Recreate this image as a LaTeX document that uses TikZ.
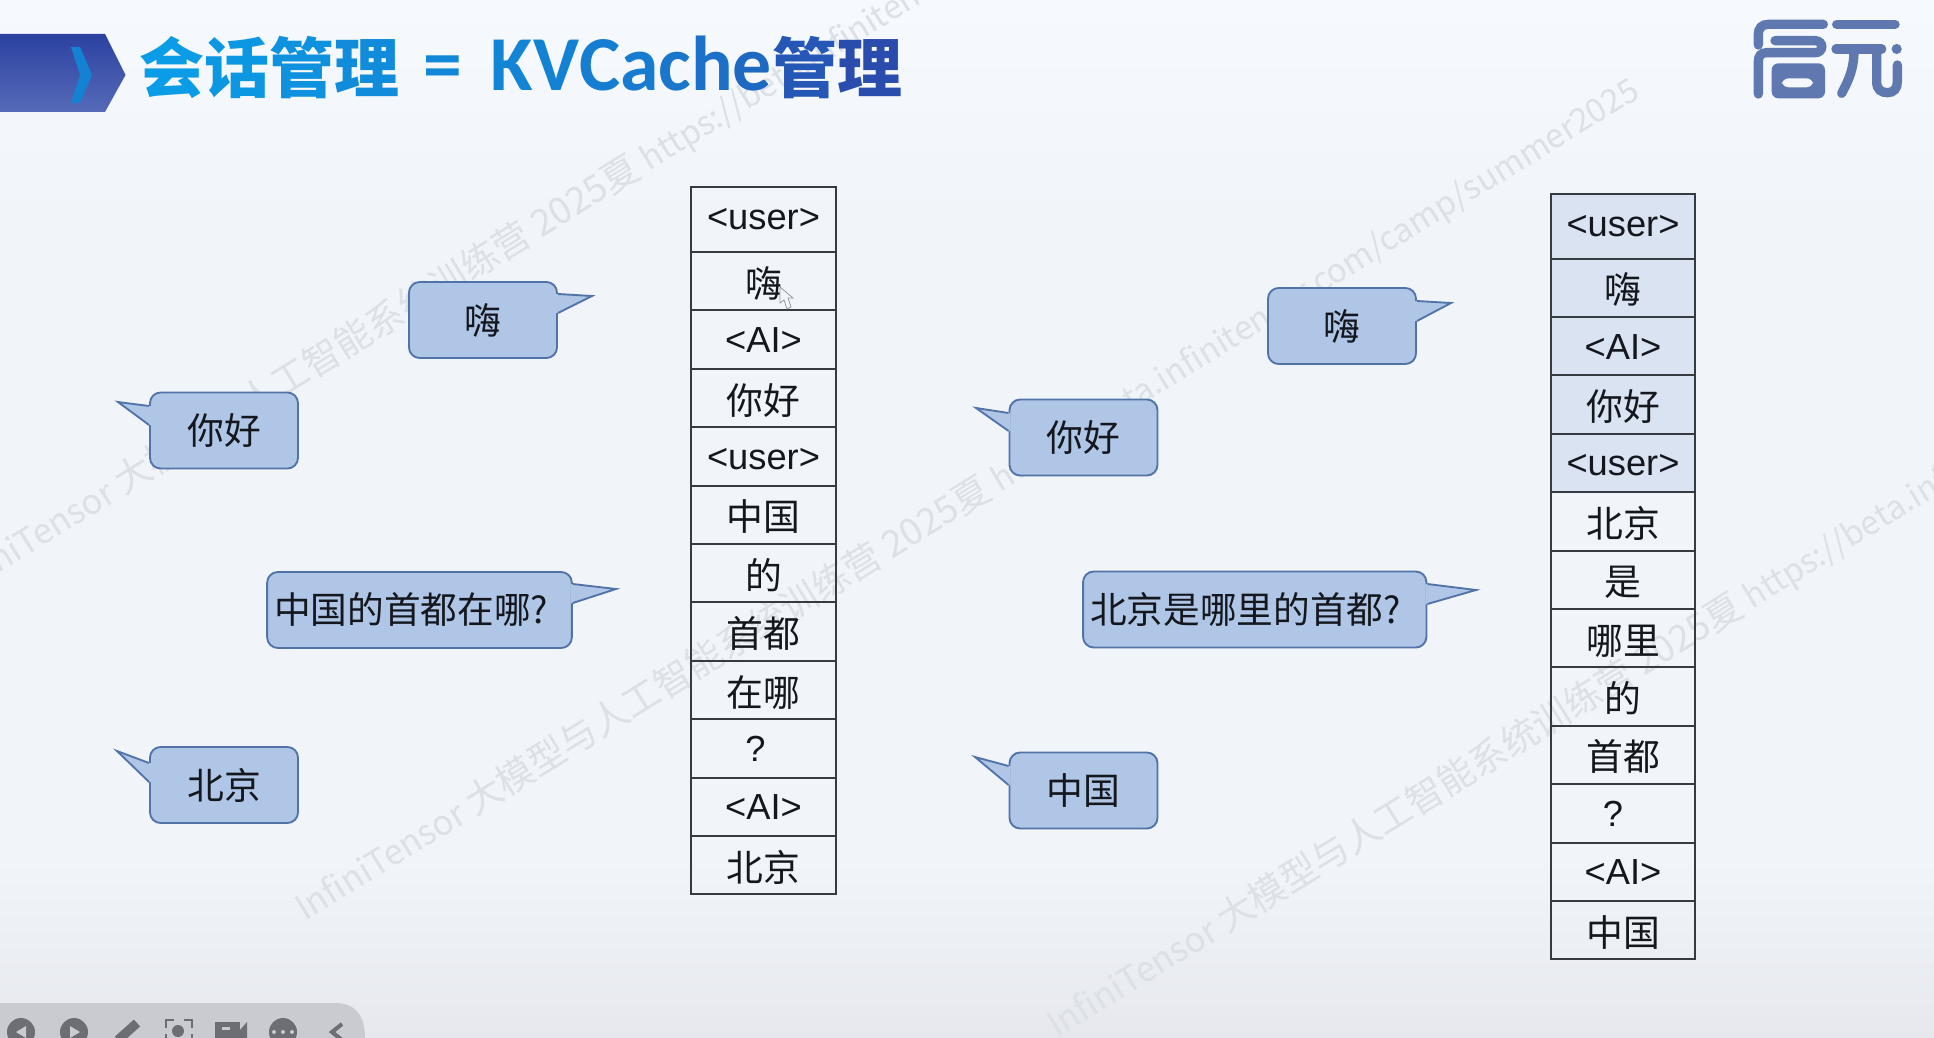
\documentclass[tikz,border=0pt]{standalone}
\usepackage{fontspec}
\usepackage{xcolor}
\usepackage{tikz}
\usetikzlibrary{positioning,calc}
\setmainfont{Liberation Sans}
\newfontfamily\cjk{Noto Sans CJK SC}
\newfontfamily\titlelatin{Carlito}
\definecolor{bgtop}{HTML}{F6F9FD}
\definecolor{bgmid}{HTML}{F1F5FA}
\definecolor{bgbot}{HTML}{E6E8ED}
\definecolor{bubblebg}{HTML}{B0C6E6}
\definecolor{bubbleedge}{HTML}{5273A8}
\definecolor{cellline}{HTML}{363B42}
\definecolor{cellblue}{HTML}{D9E3F2}
\definecolor{inktext}{HTML}{14181E}
\definecolor{wmark}{HTML}{DCE0E7}
\definecolor{titlea}{HTML}{0A9CE6}
\definecolor{titleb}{HTML}{2D45A8}
\definecolor{logoblue}{HTML}{5F79B0}
\definecolor{barbg}{HTML}{C9CBD0}
\definecolor{barink}{HTML}{6C6E73}
\newcommand{\wmtext}{\fontsize{26}{30}\selectfont InfiniTensor \fontsize{27.8}{30}\selectfont 大模型与人工智能系统训练营 2025夏 \fontsize{24.7}{30}\selectfont https://beta.infinitensor.com/camp/summer2025}
\tikzset{cell/.style={draw=cellline, line width=1.5pt, minimum width=108.5pt, minimum height=43.8pt, inner sep=0pt, outer sep=0pt, text=inktext, text height=26pt, text depth=2pt, font=\cjk\fontsize{27.6}{30}\selectfont}}
\tikzset{tagcell/.style={cell, text height=21.5pt, font=\fontsize{27.2}{30}\selectfont}}
\tikzset{headcell/.style={tagcell, text height=17pt, minimum height=48.4pt}}
\tikzset{bubble/.style={draw=bubbleedge, fill=bubblebg, line width=1.4pt, rounded corners=8pt, minimum width=111pt, minimum height=57pt, inner sep=0pt, text=inktext, font=\cjk\fontsize{27.6}{30}\selectfont}}
\tikzset{longbubble/.style={bubble, inner xsep=5.25pt, align=left, font=\cjk\fontsize{27.5}{30}\selectfont}}
\tikzset{bubblefill/.style={fill=bubblebg}}
\tikzset{bubbleline/.style={draw=bubbleedge, line width=1.4pt, miter limit=20}}
\tikzset{watermark/.style={anchor=base west, rotate=31.7, inner sep=0pt, text=wmark, font=\cjk}}
\tikzset{logostroke/.style={draw=logoblue, line width=7pt, line cap=round}}

\begin{document}
\begin{tikzpicture}[x=0.75pt,y=-0.75pt]
    \path[use as bounding box, clip] (0,0) rectangle (1934,1038);

    % page ground
    \fill[bgmid] (0,0) rectangle (1934,1038);
    \shade[top color=bgtop, bottom color=bgmid] (0,0) rectangle (1934,220);
    \shade[top color=bgmid, bottom color=bgbot] (0,860) rectangle (1934,1038);

    % watermark lines
    \node[watermark] (wm1) at (-46,601) {\wmtext};
    \node[watermark] (wm2) at (305,922) {\wmtext};
    \node[watermark] (wm3) at (1057,1039) {\wmtext};

    % header
    \shade[top color=titleb!95!black, bottom color=titleb!80!white] (0,34) -- (105,34) -- (125.5,75) -- (105,112) -- (0,112) -- cycle;
    \fill[titlea!70!titleb] (71,47) -- (80,47) -- (92,75) -- (80,103) -- (71,103) -- (80,75) -- cycle;
    \node[anchor=base west, inner sep=0pt, font=\cjk\bfseries\fontsize{48.75}{52}\selectfont] (title) at (139,93) {%
        \textcolor{titlea}{会}\textcolor{titlea!94!titleb}{话}\textcolor{titlea!88!titleb}{管}\textcolor{titlea!82!titleb}{理}%
        \hspace{18pt}\raisebox{2.2pt}{\titlelatin\bfseries\fontsize{58.3}{60}\selectfont\textcolor{titlea!76!titleb}{=}\hspace{21.5pt}\textcolor{titlea!72!titleb}{K}\textcolor{titlea!70!titleb}{V}\textcolor{titlea!66!titleb}{C}\textcolor{titlea!62!titleb}{a}\textcolor{titlea!56!titleb}{c}\textcolor{titlea!50!titleb}{h}\textcolor{titlea!42!titleb}{e}}%
        \textcolor{titlea!22!titleb}{管}\textcolor{titlea!8!titleb}{理}};

    % logo
    \begin{scope}[shift={(1700,0)}, x=0.25pt, y=-0.25pt]
        \draw[logostroke] (370,73) -- (205,73) .. controls (185,73) and (175,85) .. (175,103) -- (175,135);
        \draw[logostroke] (225,122) -- (345,122) .. controls (372,122) and (372,158) .. (345,158) -- (200,158) .. controls (183,158) and (175,168) .. (175,185) -- (175,282);
        \fill[logoblue, even odd rule, rounded corners=5pt] (215,190) rectangle (375,295) (245,235) rectangle (340,262);
        \draw[logostroke] (410,73) -- (585,73);
        \draw[logostroke] (408,147) -- (545,147);
        \fill[logoblue] (590,147) circle (3.8pt);
        \draw[logostroke] (462,150) .. controls (462,215) and (440,250) .. (425,280);
        \draw[logostroke] (530,150) -- (530,245) .. controls (530,270) and (545,278) .. (562,278) .. controls (582,278) and (592,265) .. (592,245) -- (592,195);
    \end{scope}

    % left column
    \node[headcell, anchor=north] (la1) at (763.5,187.5) {<user>};
    \node[cell,below=0pt of la1] (la2) {嗨};
    \node[tagcell,below=0pt of la2] (la3) {<AI>};
    \node[cell,below=0pt of la3] (la4) {你好};
    \node[tagcell,below=0pt of la4] (la5) {<user>};
    \node[cell,below=0pt of la5] (la6) {中国};
    \node[cell,below=0pt of la6] (la7) {的};
    \node[cell,below=0pt of la7] (la8) {首都};
    \node[cell,below=0pt of la8] (la9) {在哪};
    \node[tagcell,below=0pt of la9] (la10) {\hspace*{-12pt}?};
    \node[tagcell,below=0pt of la10] (la11) {<AI>};
    \node[cell,below=0pt of la11] (la12) {北京};

    % mouse pointer
    \draw[barink!70!white, line width=0.6pt] (780,287) -- (780,303) -- (784,300) -- (787,309) -- (791,307) -- (788,298) -- (793,298) -- cycle;

    % right column
    \node[headcell, fill=cellblue, anchor=north] (ra1) at (1623,194) {<user>};
    \node[cell,fill=cellblue,below=0pt of ra1] (ra2) {嗨};
    \node[tagcell,fill=cellblue,below=0pt of ra2] (ra3) {<AI>};
    \node[cell,fill=cellblue,below=0pt of ra3] (ra4) {你好};
    \node[tagcell,fill=cellblue,below=0pt of ra4] (ra5) {<user>};
    \node[cell,below=0pt of ra5] (ra6) {北京};
    \node[cell,below=0pt of ra6] (ra7) {是};
    \node[cell,below=0pt of ra7] (ra8) {哪里};
    \node[cell,below=0pt of ra8] (ra9) {的};
    \node[cell,below=0pt of ra9] (ra10) {首都};
    \node[tagcell,below=0pt of ra10] (ra11) {\hspace*{-15pt}?};
    \node[tagcell,below=0pt of ra11] (ra12) {<AI>};
    \node[cell,below=0pt of ra12] (ra13) {中国};

    % speech bubbles
    \node[bubble] (lhi) at (483,320) {嗨};
    \node[bubble] (lni) at (224,430.5) {你好};
    \node[longbubble, text width=218pt] (lq) at (419.5,610) {中国的首都在哪?};
    \node[bubble] (lbj) at (224,785) {北京};
    \node[bubble] (rhi) at (1342,326) {嗨};
    \node[bubble] (rni) at (1083.5,437.5) {你好};
    \node[longbubble, text width=247pt] (rq) at (1254.75,609.5) {北京是哪里的首都?};
    \node[bubble] (rzg) at (1083.5,790.5) {中国};

    \foreach \n/\side/\off/\ya/\yb/\tx/\ty in {lhi/east/-2/294/313/592/296, lni/west/2/406/425/118/402, lq/east/-2/584/603/616/589, lbj/west/2/763/782/117/751, rhi/east/-2/301/321/1451/303, rni/west/2/413/431/976/408, rq/east/-2/584/604/1476/590, rzg/west/2/766/785/975/757}{
        \coordinate (\n tip) at (\tx,\ty);
        \coordinate (\n top) at (\n.\side |- 0,\ya);
        \coordinate (\n bot) at (\n.\side |- 0,\yb);
        \fill[bubblefill] ($(\n top)+(\off,0)$) -- (\n top) -- (\n tip) -- (\n bot) -- ($(\n bot)+(\off,0)$) -- cycle;
        \draw[bubbleline] (\n top) -- (\n tip) -- (\n bot);
    }

    % player toolbar
    \fill[barbg] (0,1003) -- (335,1003) .. controls (355,1003) and (365,1015) .. (365,1038) -- (0,1038) -- cycle;
    \fill[barink] (21,1032) circle (10.5pt);
    \fill[barbg] (16,1032) -- (26,1026) -- (26,1038) -- cycle;
    \fill[barink] (74,1032) circle (10.5pt);
    \fill[barbg] (80,1032) -- (70,1026) -- (70,1038) -- cycle;
    \draw[barink, line width=7pt] (118,1040) -- (137,1023);
    \draw[barink, line width=1.8pt] (166,1028) -- (166,1020) -- (174,1020) (184,1020) -- (192,1020) -- (192,1028) (166,1034) -- (166,1040) (192,1034) -- (192,1040);
    \fill[barink] (178,1031) circle (4.5pt);
    \fill[barink] (215,1022) rectangle (240,1040);
    \fill[barink] (240,1030) -- (247,1022) -- (247,1040) -- (240,1040) -- cycle;
    \fill[barbg] (222,1027) rectangle (230,1030);
    \fill[barink] (283,1032) circle (10.5pt);
    \fill[barbg] (274,1032) circle (1.5pt) (283,1032) circle (1.5pt) (292,1032) circle (1.5pt);
    \draw[barink, line width=3pt] (342,1024) -- (332,1032) -- (342,1040);
\end{tikzpicture}
\end{document}
